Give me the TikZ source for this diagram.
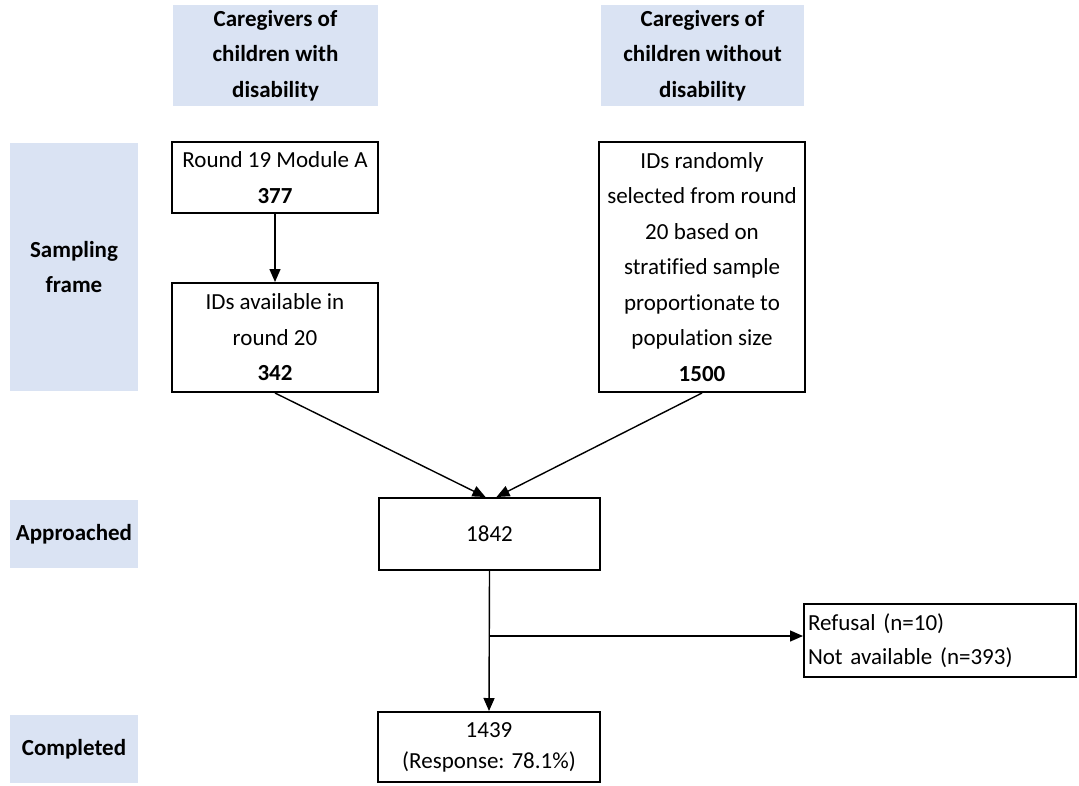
\documentclass[tikz,border=0pt]{standalone}
\usepackage{fontspec}
\setmainfont{Carlito}[Ligatures={NoCommon}]
\usetikzlibrary{arrows.meta,calc}
\definecolor{hdrblue}{HTML}{DAE3F3}
\tikzset{
  lbl/.style={fill=hdrblue, draw=none, inner sep=0pt, align=center, font=\fontsize{23}{35.5}\selectfont\bfseries},
  flowbox/.style={draw=black, line width=2pt, inner sep=0pt, align=center, font=\fontsize{23}{35.5}\selectfont},
  conn/.style={line width=1.4pt, -{Triangle[length=13pt,width=11pt]}},
}
\begin{document}
\begin{tikzpicture}[x=1pt,y=-1pt]
\useasboundingbox (0,0) rectangle (1079,785);
% header labels
\node[lbl, minimum width=205pt, minimum height=101pt] (hL) at (275.5,55.5) {Caregivers of\\children with\\disability};
\node[lbl, minimum width=203pt, minimum height=101pt] (hR) at (702.5,55.5) {Caregivers of\\children without\\disability};
% row labels
\node[lbl, minimum width=128pt, minimum height=248pt] (sf) at (74,267) {Sampling\\frame};
\node[lbl, minimum width=128pt, minimum height=68pt] (ap) at (74,534) {Approached};
\node[lbl, minimum width=128pt, minimum height=68pt] (co) at (74,749) {Completed};
% flow boxes
\node[flowbox, minimum width=206pt, minimum height=71pt] (r19) at (275,177.5) {Round 19 Module A\\\textbf{377}};
\node[flowbox, minimum width=206pt, minimum height=109pt] (ids) at (275,337.5) {IDs available in\\round 20\\\textbf{342}};
\node[flowbox, minimum width=206pt, minimum height=250pt] (rnd) at (702,267) {IDs randomly\\selected from round\\20 based on\\stratified sample\\proportionate to\\population size\\\textbf{1500}};
\node[flowbox, minimum width=221pt, minimum height=72pt] (b1842) at (489.5,534) {1842};
\node[flowbox, minimum width=222pt, minimum height=70pt, font=\fontsize{23}{31}\selectfont] (b1439) at (489,747) {1439\\(Response: 78.1\%)};
\node[flowbox, minimum width=272pt, minimum height=73pt, align=left, text width=264pt, font=\fontsize{23}{34}\selectfont] (ref) at (940,640.5) {Refusal (n=10)\\Not available (n=393)};
% connectors
\draw[conn] (r19.south) -- (ids.north);
\draw[conn] (ids.south) -- ($(b1842.north)+(-4,0)$);
\draw[conn] (rnd.south) -- ($(b1842.north)+(7,0)$);
\draw[conn] (b1842.south) -- (b1439.north);
\coordinate (br) at (b1842.south |- 0,636);
\draw[conn] (br) -- (br -| ref.west);
\end{tikzpicture}
\end{document}
